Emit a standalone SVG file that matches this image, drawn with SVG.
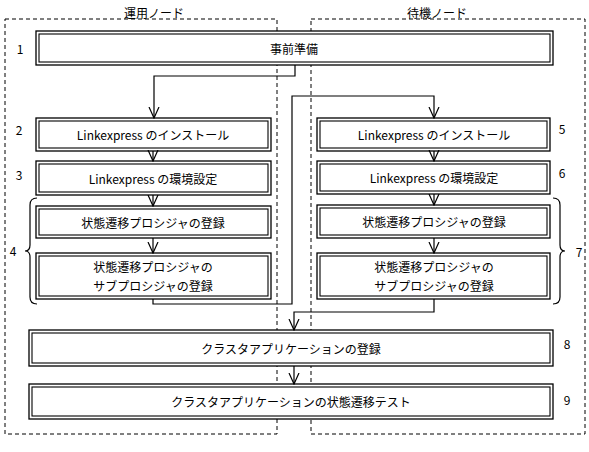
<svg xmlns="http://www.w3.org/2000/svg" width="589" height="452" viewBox="0 0 589 452">
<style>
text{font-family:"Noto Sans CJK JP","DejaVu Sans",sans-serif;font-size:12px;fill:#000;text-anchor:middle;dominant-baseline:central}
.lane{fill:none;stroke:#000;stroke-width:1;stroke-dasharray:4 3}
.o{fill:#fff;stroke:#000;stroke-width:1.3}
.i{fill:none;stroke:#000;stroke-width:1.1}
.c{fill:none;stroke:#000;stroke-width:1.2}
</style>
<defs>
<marker id="v" viewBox="0 0 12 12" refX="11" refY="6" markerWidth="12" markerHeight="12" markerUnits="userSpaceOnUse" orient="auto">
<path d="M0 1 L11 6 L0 11" fill="none" stroke="#000" stroke-width="1.2"/>
</marker>
</defs>
<rect x="0" y="0" width="589" height="452" fill="#fff"/>
<g id="lanes">
<rect class="lane" x="5" y="19" width="272" height="415"/>
<rect class="lane" x="311" y="19" width="274" height="415"/>
<text x="154" y="12">運用ノード</text>
<text x="437" y="12">待機ノード</text>
</g>
<g id="n1"><rect class="o" x="36" y="31" width="517" height="34"/><rect class="i" x="39" y="34" width="511" height="28"/><text x="294" y="48">事前準備</text><text x="20" y="48">1</text></g>
<g id="n2"><rect class="o" x="36" y="118" width="235" height="33"/><rect class="i" x="39" y="121" width="229" height="27"/><text x="153" y="134">Linkexpress のインストール</text><text x="19" y="129">2</text></g>
<g id="n3"><rect class="o" x="36" y="161" width="235" height="34"/><rect class="i" x="39" y="164" width="229" height="28"/><text x="153" y="178">Linkexpress の環境設定</text><text x="19" y="174">3</text></g>
<g id="n4a"><rect class="o" x="36" y="206" width="235" height="32"/><rect class="i" x="39" y="209" width="229" height="26"/><text x="153" y="222">状態遷移プロシジャの登録</text></g>
<g id="n4b"><rect class="o" x="36" y="253" width="235" height="46"/><rect class="i" x="39" y="256" width="229" height="40"/><text x="153" y="266">状態遷移プロシジャの</text><text x="153" y="285">サブプロシジャの登録</text></g>
<g id="b4"><path class="c" d="M37,198 Q30,198 30,205 L30,245 Q30,251 25,251 Q30,251 30,257 L30,297 Q30,304 37,304"/><text x="13" y="250">4</text></g>
<g id="n5"><rect class="o" x="317" y="118" width="233" height="33"/><rect class="i" x="320" y="121" width="227" height="27"/><text x="434" y="134">Linkexpress のインストール</text><text x="562" y="128">5</text></g>
<g id="n6"><rect class="o" x="317" y="161" width="233" height="33"/><rect class="i" x="320" y="164" width="227" height="27"/><text x="434" y="177">Linkexpress の環境設定</text><text x="562" y="172">6</text></g>
<g id="n7a"><rect class="o" x="317" y="205" width="233" height="33"/><rect class="i" x="320" y="208" width="227" height="27"/><text x="434" y="221">状態遷移プロシジャの登録</text></g>
<g id="n7b"><rect class="o" x="317" y="253" width="233" height="46"/><rect class="i" x="320" y="256" width="227" height="40"/><text x="434" y="266">状態遷移プロシジャの</text><text x="434" y="285">サブプロシジャの登録</text></g>
<g id="b7"><path class="c" d="M553,198 Q560,198 560,205 L560,245 Q560,251 565,251 Q560,251 560,257 L560,297 Q560,304 553,304"/><text x="579" y="251">7</text></g>
<g id="n8"><rect class="o" x="29" y="330" width="524" height="36"/><rect class="i" x="32" y="333" width="518" height="30"/><text x="291" y="348">クラスタアプリケーションの登録</text><text x="567" y="343">8</text></g>
<g id="n9"><rect class="o" x="29" y="384" width="524" height="35"/><rect class="i" x="32" y="387" width="518" height="29"/><text x="291" y="401">クラスタアプリケーションの状態遷移テスト</text><text x="567" y="399">9</text></g>
<g id="connectors">
<polyline class="c" points="295,65 295,76 154,76 154,118" marker-end="url(#v)"/>
<line class="c" x1="153" y1="151" x2="153" y2="161" marker-end="url(#v)"/>
<line class="c" x1="153" y1="195" x2="153" y2="206" marker-end="url(#v)"/>
<line class="c" x1="153" y1="238" x2="153" y2="253" marker-end="url(#v)"/>
<polyline class="c" points="153,299 153,304 292,304 292,96 434,96 434,118" marker-end="url(#v)"/>
<line class="c" x1="434" y1="151" x2="434" y2="161" marker-end="url(#v)"/>
<line class="c" x1="434" y1="194" x2="434" y2="205" marker-end="url(#v)"/>
<line class="c" x1="434" y1="238" x2="434" y2="253" marker-end="url(#v)"/>
<polyline class="c" points="434,299 434,312 294,312 294,330" marker-end="url(#v)"/>
<line class="c" x1="294" y1="366" x2="294" y2="384" marker-end="url(#v)"/>
</g>
</svg>
